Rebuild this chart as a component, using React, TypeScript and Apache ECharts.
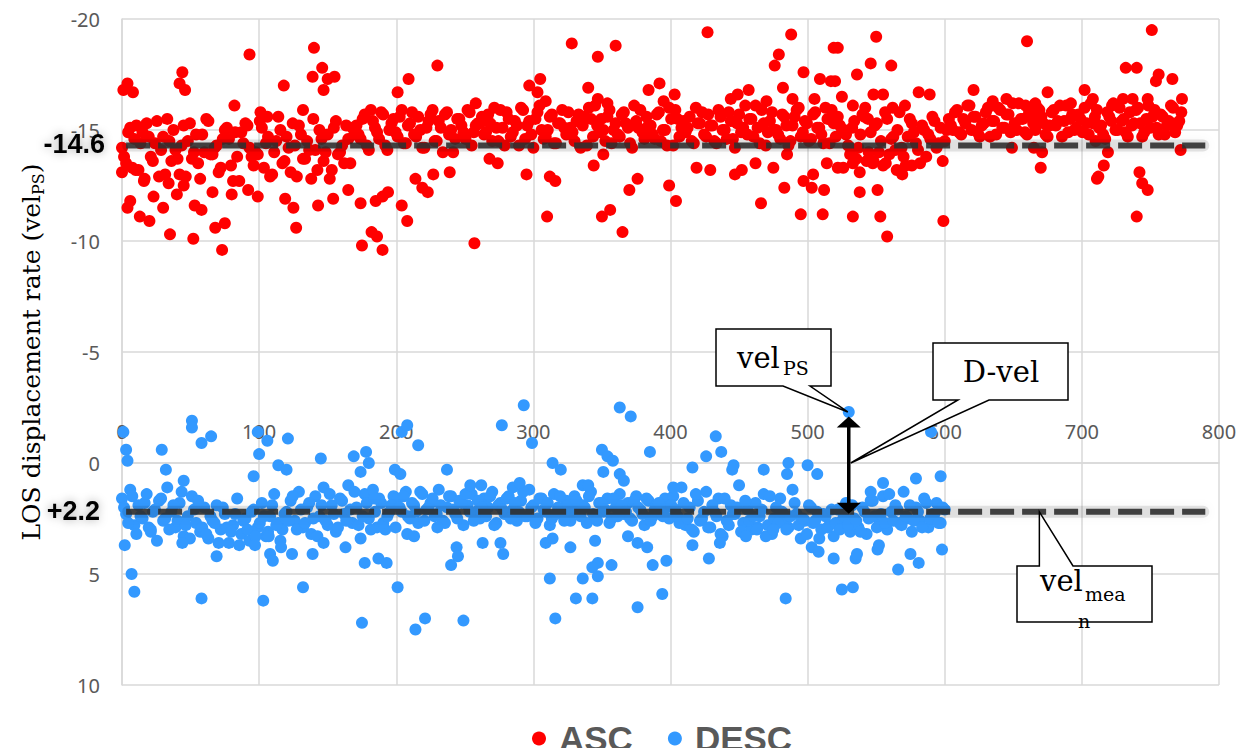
import React, { useEffect, useRef } from "react";
import * as echarts from "echarts";

// ---------- DATA ----------
const xTicks = { min: 0, max: 800, interval: 100 };
const yTicks = { min: -20, max: 10, interval: 5 };

const ascMeanLabel = "-14.6";
const ascMeanLevel = -14.3;
const descMeanLabel = "+2.2";
const descMeanLevel = 2.2;

// ASC dense band, first pass: x = 3 * index
const ascBand: number[] = [
  -14.2,-13.5,-15.1,-14.6,-13.2,-14.9,-15.3,-13.8,-14.4,-12.9,-14.7,-15.5,-13.6,-14.1,-13.0,-15.2,-14.5,-13.7,-14.8,-12.8,
  -14.0,-15.4,-13.9,-14.3,-13.3,-15.0,-14.6,-12.7,-13.8,-14.9,-15.3,-14.2,-13.4,-13.9,-15.1,-14.4,-12.9,-14.0,-15.6,-13.5,
  -14.7,-13.1,-14.3,-15.2,-13.7,-14.5,-12.8,-14.1,-15.0,-13.6,-14.8,-13.2,-15.4,-14.0,-13.5,-14.6,-15.1,
  -15.2,-14.6,-15.7,-14.1,-15.4,-14.9,-15.8,-14.3,-15.0,-15.5,-14.7,-15.9,-14.4,-15.3,-14.8,-15.6,-14.2,-15.1,-15.7,-14.5,
  -15.4,-14.0,-15.8,-15.0,-14.6,-15.5,-14.9,-15.9,-14.3,-15.2,
  -15.3,-14.8,-15.7,-14.5,-15.1,-15.9,-14.3,-15.5,-14.9,-15.2,-16.0,-14.6,-15.4,-14.2,-15.8,-15.0,-14.7,-15.6,-14.4,-15.3,
  -15.9,-14.8,-15.1,-14.5,-15.7,-15.2,-14.3,-15.5,-16.1,-14.9,-15.0,-15.6,-14.4,-15.3,-14.7,-15.8,-15.1,-14.2,-15.4,-15.9,
  -14.6,-15.2,-14.8,-15.7,-14.5,-15.0,-16.0,-14.3,-15.5,-15.1,-14.9,-15.6,-14.4,-15.3,-15.8,-14.7,-15.2,-14.5,-15.9,-15.0,
  -14.6,-15.4,-14.2,-15.7,-15.1,-14.8,-15.5,-16.1,-14.4,-15.3,-14.9,-15.8,-15.0,-14.6,-15.6,-14.3,-15.2,-15.9,-14.7,-15.4,
  -14.5,-15.7,-15.1,-14.8,-16.0,-14.4,-15.3,-15.6,-14.9,
  -14.8,-13.9,-15.4,-14.2,-15.7,-13.6,-14.9,-15.2,-14.0,-13.4,-15.5,-14.6,-14.1,-15.8,-13.8,-14.7,-15.3,-14.4,-13.5,-15.0,
  -14.8,-15.6,-14.2,-15.1,-14.5,
  -15.5,-15.0,-15.9,-14.8,-15.3,-16.1,-15.6,-14.9,-15.2,-15.8,-14.7,-15.4,-16.0,-15.1,-15.7,-14.9,-15.3,-16.2,-15.5,-14.8,
  -15.6,-15.0,-15.9,-15.3,-14.7,-15.8,-15.2,-16.1,-15.4,-14.9,-15.7,-15.1,-15.5,-16.0,-14.8,-15.3,-15.9,-15.2,-14.6,-15.6,
  -16.2,-15.0,-15.4,-14.9,-15.8,-15.3,-16.0,-14.7,-15.5,-15.1,-15.9,-14.8,-15.6,-15.2,-16.1,-14.9,-15.4,
];

// ASC dense band, second pass: x = 1.5 + 3 * index
const ascBand2: number[] = [
  -13.8,-14.9,-13.3,-15.2,-14.4,-12.8,-14.7,-13.6,-15.4,-14.1,-13.0,-14.5,-15.0,-13.7,-14.3,-12.9,-15.3,-14.0,-13.5,-14.8,
  -15.5,-13.9,-14.2,-13.1,-14.6,-15.1,-13.4,-14.9,-12.7,-14.4,-15.2,-13.8,-14.0,-15.4,-13.3,-14.7,-13.0,-14.5,-15.0,-13.6,
  -14.2,-15.3,-12.9,-14.8,-13.7,-14.1,-15.5,-13.2,-14.6,-14.0,-12.8,-15.1,-13.9,-14.3,-15.2,-13.5,-14.8,
  -14.8,-15.5,-14.3,-15.9,-15.1,-14.6,-15.7,-14.1,-15.3,-14.9,-15.6,-14.4,-15.2,-15.8,-14.7,-15.0,-14.2,-15.4,-15.9,-14.5,
  -15.1,-15.7,-14.8,-14.0,-15.5,-15.2,-14.6,-15.8,-14.9,-15.3,
  -15.6,-14.9,-15.3,-16.0,-14.5,-15.1,-15.8,-14.7,-15.4,-14.3,-15.9,-15.2,-14.8,-15.5,-16.1,-14.6,-15.0,-15.7,-14.4,-15.3,
  -15.1,-15.8,-14.9,-15.4,-14.2,-15.6,-16.0,-14.7,-15.2,-15.5,-14.5,-15.9,-15.0,-14.8,-15.7,-15.3,-14.4,-16.1,-15.1,-14.9,
  -15.6,-15.2,-14.6,-15.8,-15.0,-14.3,-15.5,-15.9,-14.7,-15.4,-15.1,-14.5,-16.0,-15.3,-14.8,-15.7,-15.2,-14.4,-15.6,-15.0,
  -15.8,-14.6,-15.3,-14.9,-16.1,-15.5,-14.7,-15.1,-15.9,-14.3,-15.4,-15.0,-14.8,-15.7,-15.2,-14.5,-15.6,-16.0,-14.9,-15.3,
  -14.6,-15.8,-15.1,-14.4,-15.5,-15.9,-14.7,-15.2,-15.0,
  -14.3,-15.1,-13.7,-14.8,-15.6,-14.0,-13.5,-15.3,-14.5,-15.8,-13.9,-14.7,-15.0,-14.2,-13.4,-15.5,-14.9,-14.1,-15.2,-13.8,
  -14.6,-15.4,-14.4,-13.6,-15.0,
  -15.2,-15.8,-14.9,-15.5,-16.1,-15.0,-15.6,-14.7,-15.3,-16.0,-15.4,-14.8,-15.9,-15.1,-15.7,-16.2,-15.0,-15.5,-14.9,-15.8,
  -15.3,-16.0,-15.6,-14.8,-15.2,-15.9,-15.4,-14.7,-16.1,-15.5,-15.0,-15.7,-14.9,-15.3,-16.2,-15.6,-15.1,-14.8,-15.8,-15.4,
  -15.0,-16.0,-15.5,-14.7,-15.2,-15.9,-15.3,-14.9,-16.1,-15.6,-15.1,-15.7,-14.8,-15.4,-16.0,-15.2,-15.8,
];

// ASC scattered points read individually [x, y]
const ascOutliers: [number, number][] = [
  [4,-17.1],[1,-16.8],[8,-16.7],[44,-17.6],[42,-17.1],[46,-16.8],[93,-18.4],[82,-16.1],[118,-17.0],[140,-18.7],
  [139,-17.4],[146,-17.8],[155,-17.4],[150,-17.3],[147,-16.8],[132,-15.9],[101,-15.8],[106,-15.6],[201,-16.7],[209,-17.3],
  [230,-17.9],[258,-16.2],
  [0,-13.1],[10,-13.2],[16,-12.7],[6,-11.8],[4,-11.5],[13,-11.1],[20,-10.9],[23,-12.0],[30,-11.5],[35,-10.3],
  [40,-12.1],[45,-12.5],[34,-12.6],[52,-10.1],[53,-11.6],[58,-11.4],[66,-12.2],[80,-12.1],[68,-10.6],[75,-10.8],
  [73,-9.6],[99,-12.0],[92,-12.3],[119,-11.9],[125,-11.5],[127,-10.6],[143,-11.6],[154,-11.9],[165,-12.3],[174,-11.7],
  [185,-11.8],[190,-12.0],[194,-12.2],[175,-9.8],[182,-10.4],[186,-10.2],[190,-9.6],[204,-11.6],[208,-10.9],[214,-12.8],
  [219,-12.4],[223,-12.2],[227,-13.0],[239,-13.1],[257,-9.9],
  [328,-18.9],[347,-18.3],[360,-18.8],[427,-19.4],[488,-19.3],[519,-18.7],[479,-18.4],[476,-17.9],[497,-17.6],[509,-17.3],
  [517,-17.2],[482,-16.9],[297,-17.0],[305,-17.3],[303,-16.7],[309,-16.3],[340,-16.9],[384,-16.8],[392,-17.1],[403,-16.6],
  [395,-16.3],[347,-16.4],[354,-16.2],[444,-16.4],[449,-16.6],[457,-16.8],[470,-16.3],[489,-16.4],[505,-16.4],
  [274,-13.5],[268,-13.7],[295,-13.0],[312,-12.9],[316,-12.7],[310,-11.1],[344,-13.4],[351,-13.9],[370,-12.3],[376,-12.8],
  [350,-11.1],[356,-11.4],[365,-10.4],[399,-12.5],[404,-11.8],[419,-13.3],[429,-13.2],[447,-13.0],[466,-11.7],[483,-12.4],
  [495,-11.2],[511,-11.2],[497,-12.7],[503,-12.4],[504,-13.0],[512,-12.3],[514,-13.5],[522,-13.3],[452,-13.2],[462,-13.5],
  [475,-13.3],[485,-13.9],
  [550,-19.2],[660,-19.0],[751,-19.5],[522,-18.7],[546,-18.0],[561,-17.9],[536,-17.5],[520,-17.2],[525,-16.5],[533,-16.1],
  [548,-16.6],[555,-16.6],[542,-16.0],[544,-15.5],[562,-16.0],[571,-16.1],[581,-16.7],[589,-16.6],[621,-16.8],[675,-16.7],
  [702,-16.8],[708,-16.4],[732,-17.8],[740,-17.8],[756,-17.5],[754,-17.2],[766,-17.3],[773,-16.4],[645,-16.4],[635,-16.3],
  [659,-16.1],[666,-16.2],[692,-16.2],[722,-16.1],[730,-16.4],[737,-16.4],[748,-16.4],
  [526,-13.3],[533,-13.5],[538,-13.1],[548,-13.6],[557,-13.5],[538,-12.2],[551,-12.3],[533,-11.1],[553,-11.1],[558,-10.2],
  [565,-13.2],[569,-13.0],[576,-13.4],[599,-10.9],[670,-13.3],[665,-14.2],[671,-14.0],[649,-14.2],[719,-14.0],[716,-13.4],
  [712,-12.9],[711,-12.8],[742,-13.1],[744,-12.6],[748,-12.3],[740,-11.1],[772,-14.1],[710,-14.5],
];

// DESC dense band, first pass: x = 3 * index
const descBand: number[] = [
  1.6,2.3,1.2,2.8,1.9,2.5,1.4,3.0,2.1,1.7,2.6,1.1,2.2,2.9,1.8,3.3,2.4,1.5,2.7,3.1,
  2.0,3.4,2.6,1.9,3.0,2.3,3.6,2.8,1.6,3.2,2.5,3.5,2.1,2.9,1.8,3.3,2.4,1.4,2.7,3.0,
  2.2,1.7,2.6,1.3,2.9,2.0,3.2,1.5,2.4,1.1,2.8,1.9,3.1,1.6,2.3,1.0,2.7,2.0,3.4,1.4,
  2.5,1.2,2.9,1.8,3.0,2.2,1.5,
  1.6,2.2,1.3,2.5,1.9,2.7,1.4,2.1,1.8,2.4,1.2,2.6,2.0,1.5,2.3,1.7,2.8,1.9,1.4,2.2,
  2.5,1.6,2.0,1.3,2.7,1.8,2.3,1.5,2.1,2.6,1.7,2.4,1.2,1.9,2.5,1.6,2.2,2.8,1.4,2.0,
  2.3,1.7,2.6,1.5,2.1,1.9,2.7,1.3,2.4,1.8,2.2,1.6,2.5,2.0,1.4,2.3,1.8,2.6,1.5,2.1,
  2.8,1.7,2.4,1.9,2.2,1.6,2.5,
  1.5,2.4,1.1,2.8,2.0,3.1,1.7,2.5,1.3,2.9,2.2,1.6,3.3,2.6,1.9,2.3,1.0,2.7,2.1,3.0,
  1.8,2.4,1.4,2.8,3.2,2.0,1.6,2.5,2.9,1.2,2.3,3.4,2.6,1.9,2.7,2.2,3.0,2.4,2.8,3.3,
  2.1,2.6,1.8,3.1,2.5,2.9,2.0,3.2,1.7,2.4,2.8,1.5,3.0,2.2,1.9,2.7,1.3,2.5,3.1,2.0,
  2.6,1.6,2.9,2.3,1.8,2.7,2.1,
];

// DESC dense band, second pass: x = 1.5 + 3 * index
const descBand2: number[] = [
  2.0,2.7,1.5,3.2,2.4,1.8,2.9,2.2,3.5,1.6,2.5,3.0,1.9,2.6,1.3,2.8,3.4,2.1,1.7,2.9,
  3.2,2.4,2.7,3.6,2.0,2.9,3.1,2.3,3.7,2.6,3.0,2.2,3.3,2.7,2.4,3.1,1.9,2.8,3.5,2.3,
  2.6,1.5,3.0,2.1,2.7,1.8,2.5,3.3,1.9,2.6,1.4,2.3,2.9,1.7,2.6,2.1,1.3,2.8,2.4,1.8,
  3.0,2.2,1.6,2.7,2.4,1.9,2.9,
  2.0,1.5,2.4,1.8,2.2,1.3,2.6,2.0,1.6,2.3,1.9,2.7,1.5,2.1,2.5,1.8,1.4,2.2,2.6,1.7,
  2.0,2.4,1.5,2.8,1.9,2.1,1.6,2.5,1.8,2.2,1.3,2.4,2.0,2.7,1.6,2.1,1.8,2.5,2.3,1.5,
  2.6,1.9,2.2,1.7,2.4,2.0,1.5,2.3,2.6,1.8,2.1,2.7,1.6,2.4,1.9,2.2,2.5,1.7,2.0,2.3,
  1.6,2.6,2.1,1.8,2.4,2.0,1.9,
  2.1,2.7,1.8,2.5,3.0,1.4,2.6,2.2,2.9,1.9,2.4,3.2,1.6,2.8,2.3,2.0,3.1,1.7,2.6,2.4,
  2.9,2.1,3.3,1.5,2.5,2.7,2.2,3.0,2.4,1.8,2.8,2.5,3.2,2.0,2.6,3.4,2.3,2.9,2.1,2.7,
  3.0,2.4,2.8,1.9,2.6,3.1,2.2,2.5,1.7,2.9,2.3,2.7,1.4,2.6,2.1,2.8,2.4,1.9,2.6,2.2,
  2.9,1.8,2.5,2.3,2.7,2.0,
];

// DESC scattered points read individually [x, y]
const descOutliers: [number, number][] = [
  [1,-1.4],[3,-0.6],[4,-0.1],[51,-1.9],[51,-1.6],[58,-0.9],[65,-1.2],[29,-0.6],[32,0.3],[45,0.8],
  [99,-1.4],[106,-1.0],[100,-0.4],[121,-1.1],[96,0.6],[114,0.1],[120,0.3],[145,-0.2],[169,-0.3],[178,-0.5],
  [180,0.0],[174,0.4],[199,0.3],[203,0.5],[204,-1.4],[208,-1.7],[216,-0.8],[277,-1.7],[293,-2.6],[299,-0.9],
  [363,-2.5],[371,-2.1],[385,-0.5],[350,-0.6],[354,-0.3],[358,-0.1],[314,0.0],[320,0.3],[237,0.3],[351,0.4],
  [363,0.5],[366,0.8],[336,1.0],[340,1.0],[254,1.0],[262,1.0],[285,1.1],[290,0.9],[402,1.1],[530,-2.3],
  [590,-1.4],[433,-1.2],[437,-0.5],[426,-0.3],[445,0.3],[446,0.1],[468,0.3],[486,0.0],[485,0.5],[500,0.1],
  [507,0.5],[579,0.7],[597,0.6],[416,0.2],[555,0.9],[546,1.3],
  [2,3.7],[21,3.1],[44,3.6],[69,4.2],[7,5.0],[9,5.8],[58,6.1],[103,6.2],[132,5.6],[175,7.2],
  [201,5.6],[107,3.3],[108,4.1],[110,4.4],[116,3.8],[124,4.1],[139,4.1],[147,3.6],[163,3.8],[177,4.5],
  [187,4.3],[193,4.5],[97,3.7],[184,1.6],
  [230,2.9],[263,3.6],[244,3.8],[245,4.2],[240,4.6],[276,3.6],[278,4.1],[309,3.6],[314,3.4],[327,3.8],
  [345,3.5],[347,4.5],[343,4.7],[347,5.1],[336,5.2],[357,4.6],[387,4.6],[397,4.4],[383,3.8],[369,3.3],
  [376,3.6],[312,5.2],[331,6.1],[343,6.1],[376,6.5],[394,5.9],[316,7.0],[214,7.5],[221,7.0],[249,7.1],
  [208,3.2],[213,3.3],
  [416,3.7],[428,4.3],[436,3.6],[455,3.3],[463,3.0],[475,3.0],[503,3.8],[508,4.0],[519,4.3],[535,4.3],
  [536,4.1],[551,3.9],[552,3.7],[566,4.8],[581,4.5],[575,4.1],[598,3.9],[525,5.7],[533,5.6],[484,6.1],
];

const bandStep = 3;
const meanLineExtent = [3, 790];
const arrowX = 530;
const arrowTopY = -2.1;
const velPsPoint: [number, number] = [530, -2.3];
const velMeanTipX = 669;

// ---------- COMPONENT ----------
const SERIF = "DejaVu Serif";
const SANS = "Noto Sans";
const GRID = { left: 122, right: 28, top: 19, bottom: 71 };
const CHART_H = 756;

export default function App() {
  const ref = useRef<HTMLDivElement>(null);

  useEffect(() => {
    if (!ref.current) return;
    const chart = echarts.init(ref.current, undefined, { renderer: "svg" });

    const ascData = [
      ...ascBand.map((y, i) => [i * bandStep, y]),
      ...ascBand2.map((y, i) => [1.5 + i * bandStep, y]),
      ...ascOutliers,
    ];
    const descData = [
      ...descBand.map((y, i) => [i * bandStep, y]),
      ...descBand2.map((y, i) => [1.5 + i * bandStep, y]),
      ...descOutliers,
    ];

    // x axis drawn through y = 0 (axis at top, shifted down to the zero line)
    const plotH = CHART_H - GRID.top - GRID.bottom;
    const zeroOffset = -plotH * (0 - yTicks.min) / (yTicks.max - yTicks.min);

    const gridColor = "#d9d9d9";
    chart.setOption({
      animation: false,
      backgroundColor: "#ffffff",
      grid: { ...GRID, containLabel: false, outerBoundsMode: "none" },
      legend: {
        left: 527,
        top: 716,
        itemWidth: 30,
        itemHeight: 14,
        itemGap: 35,
        icon: "circle",
        textStyle: {
          fontFamily: "Liberation Sans",
          fontWeight: "bold",
          fontSize: 35,
          color: "#595959",
        },
        data: ["ASC", "DESC"],
      },
      xAxis: {
        type: "value",
        min: xTicks.min,
        max: xTicks.max,
        interval: xTicks.interval,
        position: "top",
        offset: zeroOffset,
        axisLine: { show: true, onZero: false, lineStyle: { color: gridColor, width: 1.5 } },
        axisTick: { show: false },
        axisLabel: { margin: 22, fontFamily: SANS, fontSize: 20, color: "#595959" },
        splitLine: { show: true, lineStyle: { color: gridColor, width: 1.5 } },
      },
      yAxis: {
        type: "value",
        inverse: true,
        min: yTicks.min,
        max: yTicks.max,
        interval: yTicks.interval,
        axisLine: { show: true, onZero: false, lineStyle: { color: gridColor, width: 1.5 } },
        axisTick: { show: false },
        axisLabel: { margin: 22, fontFamily: SANS, fontSize: 20, color: "#595959" },
        splitLine: { show: true, lineStyle: { color: gridColor, width: 1.5 } },
        name: "{a|LOS displacement rate (vel}{s|PS}{a|)}",
        nameLocation: "middle",
        nameRotate: 90,
        nameGap: 76,
        nameTextStyle: {
          rich: {
            a: { fontFamily: SERIF, fontSize: 25, color: "#000", lineHeight: 30, verticalAlign: "middle" },
            s: { fontFamily: SERIF, fontSize: 16, color: "#000", lineHeight: 16, verticalAlign: "bottom" },
          },
        },
      },
      series: [
        {
          name: "ASC",
          type: "scatter",
          symbol: "circle",
          symbolSize: 12,
          itemStyle: { color: "#ff0000", opacity: 1 },
          data: ascData,
          z: 2,
        },
        {
          name: "DESC",
          type: "scatter",
          symbol: "circle",
          symbolSize: 12,
          itemStyle: { color: "#3399ff", opacity: 1 },
          data: descData,
          z: 3,
        },
      ],
    });

    const p = (x: number, y: number) => chart.convertToPixel({ gridIndex: 0 }, [x, y]) as number[];

    const a0 = p(meanLineExtent[0], ascMeanLevel);
    const a1 = p(meanLineExtent[1], ascMeanLevel);
    const d0 = p(meanLineExtent[0], descMeanLevel);
    const d1 = p(meanLineExtent[1], descMeanLevel);
    const zeroY = p(0, 0)[1];

    const dashStyle = {
      stroke: "#2f2f2f",
      lineWidth: 6,
      lineDash: [24, 8],
      opacity: 0.9,
    };
    const glow = (x0: number, x1: number, y: number) => ({
      type: "rect",
      z: 99,
      shape: { x: x0 - 4, y: y - 6, width: x1 - x0 + 8, height: 12, r: 6 },
      style: { fill: "rgba(0,0,0,0.10)", shadowBlur: 10, shadowColor: "rgba(0,0,0,0.35)" },
    });

    const arrowPx = p(arrowX, arrowTopY);
    const ax = arrowPx[0];
    const aTop = arrowPx[1];
    const aBot = p(arrowX, descMeanLevel)[1] + 2;

    const velPs = p(velPsPoint[0], velPsPoint[1]);
    const meanTip = p(velMeanTipX, descMeanLevel);

    const boxStyle = { fill: "#fff", stroke: "#000", lineWidth: 1.5 };
    const serifText = (x: number, y: number, text: string, size: number, align = "left") => ({
      type: "text",
      z: 120,
      style: { x, y, text, fontFamily: SERIF, fontSize: size, fill: "#000", align, verticalAlign: "middle" },
    });

    const graphic: any[] = [
      glow(a0[0], a1[0], a0[1]),
      glow(d0[0], d1[0], d0[1]),
      { type: "line", z: 100, shape: { x1: a0[0], y1: a0[1], x2: a1[0], y2: a1[1] }, style: dashStyle },
      { type: "line", z: 100, shape: { x1: d0[0], y1: d0[1], x2: d1[0], y2: d1[1] }, style: dashStyle },
      {
        type: "text", z: 110,
        style: {
          x: 105, y: a0[1] - 2, text: ascMeanLabel, align: "right", verticalAlign: "middle",
          fontFamily: "Liberation Sans", fontWeight: "bold", fontSize: 27, fill: "#000",
          textShadowColor: "rgba(0,0,0,0.35)", textShadowBlur: 10,
        },
      },
      {
        type: "text", z: 110,
        style: {
          x: 100, y: d0[1] - 1, text: descMeanLabel, align: "right", verticalAlign: "middle",
          fontFamily: "Liberation Sans", fontWeight: "bold", fontSize: 27, fill: "#000",
          textShadowColor: "rgba(0,0,0,0.35)", textShadowBlur: 10,
        },
      },
      // double arrow
      { type: "line", z: 110, shape: { x1: ax, y1: aTop + 8, x2: ax, y2: aBot - 8 }, style: { stroke: "#000", lineWidth: 3.5 } },
      { type: "polygon", z: 110, shape: { points: [[ax, aTop], [ax - 12, aTop + 11], [ax + 12, aTop + 11]] }, style: { fill: "#000" } },
      { type: "polygon", z: 110, shape: { points: [[ax, aBot], [ax - 12, aBot - 11], [ax + 12, aBot - 11]] }, style: { fill: "#000" } },
      // vel_PS callout
      {
        type: "polygon", z: 115,
        shape: { points: [[716, 329], [831, 329], [831, 386], [810, 386], [velPs[0] - 1, velPs[1]], [783, 386], [716, 386]] },
        style: boxStyle,
      },
      serifText(737, 358, "vel", 29),
      serifText(783, 368, "PS", 19),
      // D-vel callout
      {
        type: "polygon", z: 115,
        shape: { points: [[933, 343], [1068, 343], [1068, 400], [989, 400], [ax + 2, zeroY], [958, 400], [933, 400]] },
        style: boxStyle,
      },
      serifText(1001, 372, "D-vel", 29, "center"),
      // vel_mean callout
      {
        type: "polygon", z: 115,
        shape: { points: [[1017, 566], [meanTip[0], 566], [meanTip[0], meanTip[1]], [1073, 566], [1152, 566], [1152, 622], [1017, 622]] },
        style: boxStyle,
      },
      serifText(1040, 581, "vel", 29),
      serifText(1085, 594, "mea", 19),
      serifText(1084, 621, "n", 19, "center"),
    ];

    chart.setOption({ graphic });

    return () => chart.dispose();
  }, []);

  return <div ref={ref} style={{ width: 1247, height: CHART_H, margin: -8 }} />;
}
